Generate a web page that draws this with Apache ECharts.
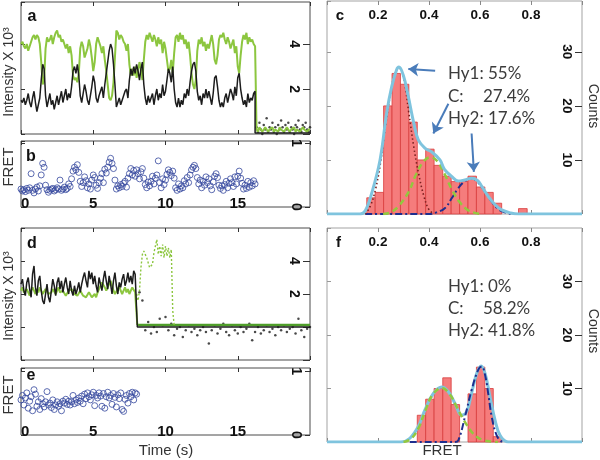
<!DOCTYPE html>
<html><head><meta charset="utf-8">
<script src="https://cdn.jsdelivr.net/npm/echarts@6/dist/echarts.min.js"></script>
<style>html,body{margin:0;padding:0;background:#fff}#chart{width:600px;height:460px}</style>
</head><body><div id="chart"></div>
<script>
// ---------- DATA ----------
const FRAME_DT = 0.1; // s per frame for traces
// panel a (x10^3), t = 0 .. 16.2 s
const GREEN_A = [4.0,4.1,3.9,3.8,4.0,3.7,3.9,4.1,4.3,4.4, 4.2,4.4,4.3,4.0,3.2,2.2,2.4,3.8,4.3,4.1,
 4.2,4.4,4.0,4.3,4.5,4.6,4.3,4.4,4.1,4.2, 4.0,3.8,4.0,3.6,3.9,3.5,2.6,2.4,2.5,2.3,
 2.7,3.8,4.1,3.9,3.4,3.6,3.8,4.2,3.9,3.4, 2.8,3.2,4.0,4.3,4.1,3.9,3.6,3.9,3.3,2.8,
 2.2,1.6,1.5,1.7,2.3,3.4,4.6,4.5,4.2,4.4, 4.3,4.1,4.0,3.7,4.0,3.1,2.6,2.9,2.6,3.0,
 2.5,2.8,3.2,2.9,2.4,3.3,4.1,4.4,4.2,4.5, 4.3,4.1,4.4,4.2,3.9,4.3,4.0,4.2,3.6,4.1,
 3.8,3.3,2.8,2.9,3.3,2.7,3.6,4.3,4.4,4.1, 4.5,4.2,4.4,4.0,4.2,3.8,4.1,3.5,2.7,2.2,
 2.0,2.4,3.7,4.2,4.0,4.3,3.9,4.1,3.7,4.0, 3.8,4.1,4.4,4.0,3.3,3.1,3.5,4.2,4.4,4.3,
 4.5,4.2,4.0,4.3,4.1,3.8,4.0,4.2,3.6,3.9, 3.0,2.7,3.5,4.1,4.4,4.2,4.5,4.0,4.3,4.1, 4.2,4.0,3.9];
const BLACK_A = [1.5,1.4,1.6,1.3,1.5,1.8,1.4,1.2,1.6,1.9, 1.4,1.0,1.3,1.6,2.4,3.1,2.9,1.7,1.2,1.5,
 1.8,1.3,1.5,1.1,1.4,1.7,1.3,1.6,1.9,1.4, 1.7,2.0,1.5,1.8,1.6,2.1,2.8,3.0,2.7,3.1,
 2.6,1.7,1.4,1.8,2.2,1.9,1.5,1.3,1.7,2.1, 2.6,2.3,1.6,1.4,1.7,1.9,2.1,1.6,2.2,2.7,
 3.2,3.7,4.0,3.8,3.1,2.2,1.2,1.4,1.6,1.3, 1.5,1.7,1.9,2.0,1.6,2.4,2.9,2.6,3.0,2.7,
 3.1,2.8,2.4,2.9,3.2,2.2,1.6,1.3,1.7,1.4, 1.6,1.8,1.3,1.7,2.0,1.5,1.8,1.6,2.2,1.7,
 1.9,2.4,2.9,2.7,2.3,3.0,2.0,1.4,1.2,1.6, 1.2,1.5,1.3,1.8,1.6,2.0,1.7,2.3,2.8,3.1,
 3.2,2.8,1.9,1.5,1.7,1.3,1.8,1.6,2.0,1.6, 1.9,1.6,1.3,1.8,2.5,2.6,2.1,1.5,1.2,1.4,
 1.2,1.6,1.8,1.4,1.7,2.0,1.8,1.5,2.1,1.7, 2.5,2.7,2.0,1.6,1.3,1.5,1.2,1.8,1.4,1.6, 1.5,1.8,1.9];
const A_POST_T0 = 16.3; // after photobleaching, t = 16.3 .. 20.0 s
const GREEN_A_POST = [0.2,0.1,0.3,0.2,0.1,0.2,0.3,0.2,0.1,0.2, 0.2,0.3,0.1,0.2,0.2,0.1,0.3,0.2,0.2,0.1,
 0.2,0.3,0.2,0.1,0.2,0.2,0.3,0.1,0.2,0.2, 0.1,0.2,0.3,0.2,0.2,0.1,0.2,0.2];
const BLACK_A_DOTS = [0.3,0.1,0.5,0.2,0.0,0.4,0.2,0.7,0.1,0.3, 0.2,0.5,0.1,0.3,0.0,0.4,0.2,0.6,0.3,0.1,
 0.4,0.2,0.5,0.1,0.3,0.2,0.0,0.4,0.3,0.6, 0.2,0.1,0.4,0.3,0.5,0.2,0.1,0.3];
const BLACK_A_BASE_T = [16.2, 20.0];
const BLACK_A_BASE = [0.05, 0.05];
// panel b FRET, t = 0 .. 16.2 s
const FRET_B = [0.28,0.25,0.27,0.24,0.29,0.26,0.30,0.52,0.26,0.22, 0.28,0.31,0.25,0.33,0.50,0.68,0.62,0.34,0.27,0.23,
 0.26,0.28,0.29,0.25,0.27,0.30,0.28,0.42,0.26,0.28, 0.31,0.27,0.29,0.36,0.32,0.44,0.56,0.62,0.58,0.66,
 0.54,0.40,0.32,0.38,0.47,0.41,0.30,0.36,0.28,0.42, 0.50,0.46,0.34,0.29,0.38,0.45,0.52,0.38,0.59,0.53,
 0.62,0.70,0.76,0.68,0.60,0.42,0.28,0.33,0.30,0.35, 0.32,0.37,0.40,0.31,0.45,0.52,0.60,0.50,0.57,0.48,
 0.58,0.52,0.44,0.55,0.60,0.45,0.35,0.30,0.39,0.33, 0.40,0.48,0.36,0.45,0.50,0.72,0.38,0.30,0.44,0.35,
 0.42,0.51,0.58,0.54,0.49,0.56,0.45,0.30,0.26,0.36, 0.28,0.33,0.30,0.41,0.36,0.46,0.38,0.50,0.58,0.62,
 0.65,0.60,0.46,0.36,0.42,0.30,0.40,0.34,0.47,0.38, 0.44,0.33,0.27,0.39,0.48,0.52,0.46,0.34,0.29,0.33,
 0.26,0.35,0.40,0.30,0.37,0.44,0.38,0.32,0.47,0.36, 0.48,0.56,0.45,0.37,0.28,0.34,0.29,0.40,0.31,0.38, 0.33,0.41,0.36];
// panel d (x10^3), t = 0 .. 8.0 s
const BLACK_D = [2.6,2.9,2.2,1.9,2.7,3.0,2.3,1.8,3.2,3.7, 2.4,1.9,2.8,3.1,2.2,1.6,1.4,2.0,2.6,1.8,
 1.5,2.2,2.9,2.5,1.9,2.7,3.0,2.3,2.8,2.1, 2.6,3.0,2.4,2.0,2.8,2.2,1.9,2.5,2.0,2.3,
 2.7,2.1,2.6,3.0,3.3,2.8,2.4,3.4,2.9,3.3, 2.6,3.1,2.5,2.1,3.0,2.6,2.2,2.9,3.4,2.8,
 2.3,3.1,2.6,2.0,2.8,3.3,2.5,2.0,2.7,2.4, 2.9,3.2,2.5,2.8,3.3,2.7,3.1,2.6,3.4,3.2, 3.3];
const GREEN_D = [2.2,2.4,2.1,2.0,2.3,2.1,1.9,2.2,2.4,2.2, 2.0,2.3,2.1,2.4,2.2,2.0,2.1,2.3,2.2,2.0,
 1.9,2.1,2.3,2.2,2.0,2.2,2.4,2.1,2.0,2.2, 2.1,1.9,2.0,2.2,2.1,2.3,2.2,2.0,2.1,1.9,
 2.0,2.2,2.1,1.9,2.0,1.8,1.9,2.1,2.0,1.8, 1.9,2.0,1.8,2.1,2.3,2.5,2.7,2.6,2.4,2.2,
 2.3,2.6,2.8,2.5,2.2,2.0,2.1,2.3,2.5,2.2, 2.0,2.2,2.4,2.1,2.3,2.0,2.2,2.4,2.3,2.1, 2.0];
const D_SPIKE_T0 = 8.0; // green dotted burst, t = 8.0 .. 10.6 s
const GREEN_D_SPIKE = [2.0,1.6,2.2,3.6,4.4,4.6,4.5,4.2,3.9,3.6, 3.5,3.8,4.5,4.9,5.3,4.4,4.9,4.3,5.0,4.2,
 4.9,4.3,4.8,4.2,4.7,1.0,0.1];
const D_BASE_T = [8.05, 20.0];
const BLACK_D_BASE = [0.0, 0.0];
const GREEN_D_BASE = [0.12, 0.12];
const D_DOTS_T0 = 8.2, D_DOTS_DT = 0.2; // t = 8.2 .. 20.0 s
const BLACK_D_DOTS = [2.1,1.6,-0.2,0.3,-0.4,0.0,-0.3,0.5,0.1,0.6, -0.2,0.2,-0.5,-0.1,0.0,-0.6,-0.2,0.1,-0.3,-0.1,
 -0.5,-0.2,0.0,-0.3,-1.0,-0.2,0.1,-0.4,-0.1,0.2, -0.3,-0.5,0.1,-0.2,-0.4,0.0,-0.3,-0.1,0.2,-0.8,
 -0.3,0.0,-0.4,-0.2,0.1,-0.3,-0.1,-0.5,0.0,-0.2, 0.1,-0.3,-0.1,0.0,-0.4,0.5,-0.2,-0.6,-0.1,0.0];
// panel e FRET, t = 0 .. 8.0 s
const FRET_E = [0.55,0.62,0.47,0.58,0.66,0.42,0.53,0.60,0.38,0.71, 0.64,0.45,0.52,0.40,0.57,0.49,0.44,0.52,0.68,0.47,
 0.50,0.43,0.55,0.40,0.47,0.52,0.45,0.49,0.38,0.53, 0.50,0.56,0.48,0.53,0.47,0.52,0.62,0.49,0.55,0.51,
 0.58,0.53,0.61,0.49,0.64,0.57,0.66,0.60,0.55,0.63, 0.67,0.46,0.62,0.58,0.66,0.61,0.45,0.65,0.42,0.60,
 0.67,0.58,0.62,0.48,0.65,0.59,0.44,0.63,0.57,0.66, 0.40,0.37,0.56,0.62,0.50,0.65,0.60,0.67,0.55,0.66, 0.64];
// histograms (FRET bins, counts)
const BIN_EDGES = [0.156,0.189,0.222,0.255,0.288,0.321,0.354,0.387,0.420,0.454,0.487,0.520,0.553,0.586,0.619,0.652,0.685,0.718,0.751,0.785];
const COUNTS_C = [3,4,20,26,24,17,10,12,9,7,6,6,7,5,4,2,0,0,1];
const COUNTS_F = [0,0,0,0,0,0,5,8,10,12,7,0,9,14,10,1,0,0,0];
// fitted curves, panel c
const FIT_C_X = [0,0.13,0.15,0.175,0.208,0.234,0.254,0.273,0.282,0.299,0.319,0.339,0.358,0.384,0.41,0.443,0.46,0.49,0.515,0.54,0.567,0.59,0.607,0.633,0.659,0.685,0.72,0.75,1];
const FIT_C_Y = [0,0,0.6,3.8,10,18.7,23.6,26.7,27.2,25.7,21.7,17.1,13.7,12.2,11.5,10,8.3,6.9,6.1,6.3,6.6,6.2,5.1,3.2,1.7,0.75,0.2,0,0];
const HY1_C_X = [0.15,0.17,0.19,0.21,0.23,0.25,0.265,0.282,0.30,0.32,0.34,0.36,0.38,0.40,0.42];
const HY1_C_Y = [0,1.5,4.5,9.5,16.5,22.5,25.8,27,25.3,19,12.5,7.3,3.3,0.8,0];
const C_C_X = [0.22,0.25,0.28,0.32,0.35,0.38,0.405,0.43,0.46,0.49,0.52,0.55,0.58,0.61];
const C_C_Y = [0,0.3,1.4,4.1,7.4,9.8,10.5,9.9,7.5,4.5,2.2,0.8,0.2,0];
const HY2_C_X = [0.15,0.40,0.43,0.463,0.489,0.515,0.541,0.567,0.593,0.62,0.646,0.672,0.70,0.73];
const HY2_C_Y = [0,0,0.3,1.1,2.9,4.8,6.1,6.6,5.8,4.1,2.3,0.9,0.25,0];
// fitted curves, panel f
const FIT_F_X = [0,0.29,0.325,0.358,0.384,0.417,0.45,0.476,0.502,0.528,0.548,0.567,0.587,0.604,0.62,0.639,0.659,0.678,0.705,0.72,1];
const FIT_F_Y = [0,0,0.7,2.9,6,9.1,10.3,9.4,7.2,5,5.7,9.1,12.8,14.2,12.8,8.5,4.1,1.3,0.05,0,0];
const C_F_X = [0.30,0.33,0.36,0.385,0.415,0.45,0.48,0.508,0.53,0.548,0.567,0.587,0.61,0.64,0.67];
const C_F_Y = [0,0.6,2.7,5.8,8.9,10.1,9.0,6.6,4.6,3.2,1.9,1.0,0.4,0.1,0];
const HY2_F_X = [0.325,0.50,0.515,0.541,0.567,0.593,0.607,0.62,0.633,0.646,0.665,0.685,0.70];
const HY2_F_Y = [0,0,0.3,4.7,9.7,13.5,14.1,12.5,8.8,4.7,1.3,0.1,0];
// arrows in panel c: [fromX, fromY, toX, toY]
const ARROWS_C = [[0.424,26.5,0.319,26.8],[0.476,20.4,0.417,14.9],[0.567,14.9,0.576,7.8]];
const X_TICKS_TIME = [0,5,10,15];
// ---------- helpers ----------
const trace = (t0, dt, vals) => vals.map((v,i) => [Math.round((t0+i*dt)*100)/100, v]);
const pairs = (xs, ys) => xs.map((x,i) => [x, ys[i]]);
const bins = counts => counts.map((c,i) => [BIN_EDGES[i], BIN_EDGES[i+1], c]).filter(d => d[2] > 0);
const FONT = '"Liberation Sans", Arial, sans-serif';
const GREEN = '#8cc63f', BLACK = '#1c1c1c', CYAN = '#7fc4de', NAVY = '#1e2e8e';

function tAxis(gi, pos, labels){
  return {type:'value', gridIndex:gi, position:pos, min:0, max:20, interval:5,
    axisLine:{show:false, onZero:false}, splitLine:{show:false},
    axisTick:{show:!labels, inside:true, length:4, lineStyle:{color:'#333'}},
    axisLabel: labels ? {show:true, inside:true, margin:-4, fontSize:15, fontWeight:'bold', color:'#111', fontFamily:FONT,
      showMaxLabel:false, alignMinLabel:'left', formatter:v => X_TICKS_TIME.indexOf(v) >= 0 ? String(v) : ''} : {show:false}};
}
function fAxis(gi, pos, labels){
  return {type:'value', gridIndex:gi, position:pos, min:0, max:1, interval:0.2,
    axisLine:{show:false, onZero:false}, splitLine:{show:false},
    axisTick:{show:true, inside:true, length:4, lineStyle:{color:'#888'}},
    axisLabel: labels ? {show:true, inside:true, margin:7, fontSize:13.5, fontWeight:'bold', color:'#111', fontFamily:FONT,
      formatter:v => (v > 0.01 && v < 0.99) ? v.toFixed(1) : ''} : {show:false}};
}
function leftY(gi, min, max, interval, color){
  return {type:'value', gridIndex:gi, position:'left', min, max, interval,
    axisLine:{show:false, onZero:false}, splitLine:{show:false},
    axisTick:{show:true, inside:true, length:4, lineStyle:{color}}, axisLabel:{show:false}};
}
function rightY(gi, min, max, interval, shown, fs, margin, tickLen){
  return {type:'value', gridIndex:gi, position:'right', min, max, interval,
    axisLine:{show:false, onZero:false}, splitLine:{show:false},
    axisTick:{show:true, inside:true, length:tickLen, lineStyle:{color:'#333'}},
    axisLabel:{show:true, inside:true, rotate:-90, margin, fontSize:fs, fontWeight:'bold', color:'#111', fontFamily:FONT,
      showMinLabel:true, showMaxLabel:false, formatter:v => shown.indexOf(v) >= 0 ? String(v) : ''}};
}
function histRender(params, api){
  const p0 = api.coord([api.value(0), 0]);
  const p1 = api.coord([api.value(1), api.value(2)]);
  return {type:'rect', shape:{x:p0[0], y:p1[1], width:p1[0]-p0[0], height:p0[1]-p1[1]},
    style:{fill:'#f57c7c', stroke:'#d83c3c', lineWidth:0.8}};
}
const lineS = (name, xi, yi, data, color, width, type, extra) => Object.assign({
  name, type:'line', xAxisIndex:xi, yAxisIndex:yi, data, showSymbol:false, symbol:'none',
  lineStyle:{color, width, type}, silent:true}, extra || {});
const dotS = (name, xi, yi, data, color) => ({name, type:'scatter', xAxisIndex:xi, yAxisIndex:yi, data,
  symbolSize:2.5, itemStyle:{color}, silent:true});
const circS = (name, xi, yi, data) => ({name, type:'scatter', xAxisIndex:xi, yAxisIndex:yi, data,
  symbol:'circle', symbolSize:6, itemStyle:{color:'rgba(0,0,0,0)', borderColor:'#34479d', borderWidth:1}, silent:true});

const grids = [
  {left:21, top:2, width:289, height:132, show:true, borderColor:'#4a4a4a', borderWidth:1},
  {left:21, top:141, width:289, height:66, show:true, borderColor:'#4a4a4a', borderWidth:1},
  {left:21, top:228, width:289, height:132, show:true, borderColor:'#4a4a4a', borderWidth:1},
  {left:21, top:368, width:289, height:67, show:true, borderColor:'#4a4a4a', borderWidth:1},
  {left:327, top:1, width:255, height:213, show:true, borderColor:'#a3a3a3', borderWidth:1},
  {left:327, top:228, width:255, height:214, show:true, borderColor:'#a3a3a3', borderWidth:1}
];
const xAxes = [
  tAxis(0,'bottom',false), tAxis(0,'top',false),
  tAxis(1,'bottom',true), tAxis(1,'top',false),
  tAxis(2,'bottom',false), tAxis(2,'top',false),
  tAxis(3,'bottom',true), tAxis(3,'top',false),
  fAxis(4,'top',true), fAxis(4,'bottom',false),
  fAxis(5,'top',true), fAxis(5,'bottom',false)
];
const yAxes = [
  leftY(0,0,5.87,2,'#333'), rightY(0,0,5.87,2,[2,4],14,9,7),
  leftY(1,0,1.03,1,'#333'), rightY(1,0,1.03,1,[0,1],14,7,5),
  leftY(2,-2,6,2,'#333'), rightY(2,-2,6,2,[2,4],14,9,7),
  leftY(3,0,1.05,1,'#333'), rightY(3,0,1.05,1,[0,1],14,7,5),
  leftY(4,0,39.4,10,'#999'), rightY(4,0,39.4,10,[10,20,30],13.5,8,7),
  leftY(5,0,40,10,'#999'), rightY(5,0,40,10,[10,20,30],13.5,8,7)
];
const series = [
  // a
  lineS('greenA',0,0, trace(0,FRAME_DT,GREEN_A).concat(trace(A_POST_T0,FRAME_DT,GREEN_A_POST)), GREEN, 2, 'solid'),
  lineS('blackA',0,0, trace(0,FRAME_DT,BLACK_A).concat(pairs(BLACK_A_BASE_T,BLACK_A_BASE)), BLACK, 1.5, 'solid'),
  dotS('blackAdots',0,0, trace(A_POST_T0,FRAME_DT,BLACK_A_DOTS), BLACK),
  // b
  circS('fretB',2,2, trace(0,FRAME_DT,FRET_B)),
  // d
  lineS('greenDbase',4,4, pairs(D_BASE_T,GREEN_D_BASE), '#4f9e2a', 2.5, 'solid'),
  lineS('greenD',4,4, trace(0,FRAME_DT,GREEN_D).concat(pairs(D_BASE_T.slice(0,1),GREEN_D_BASE.slice(0,1))), GREEN, 2, 'solid'),
  lineS('greenDspike',4,4, trace(D_SPIKE_T0,FRAME_DT,GREEN_D_SPIKE), GREEN, 1.4, [2,2]),
  lineS('blackD',4,4, trace(0,FRAME_DT,BLACK_D).concat(pairs(D_BASE_T,BLACK_D_BASE)), BLACK, 1.5, 'solid'),
  dotS('blackDdots',4,4, trace(D_DOTS_T0,D_DOTS_DT,BLACK_D_DOTS), BLACK),
  // e
  circS('fretE',6,6, trace(0,FRAME_DT,FRET_E)),
  // c
  {name:'histC', type:'custom', xAxisIndex:8, yAxisIndex:8, renderItem:histRender, data:bins(COUNTS_C), encode:{x:[0,1], y:2}, silent:true},
  lineS('hy2C',8,8, pairs(HY2_C_X,HY2_C_Y), NAVY, 2, [7,3,2,3], {smooth:0.4}),
  lineS('cC',8,8, pairs(C_C_X,C_C_Y), '#93c83e', 2.5, [6,4], {smooth:0.4}),
  lineS('hy1C',8,8, pairs(HY1_C_X,HY1_C_Y), '#7a1f1f', 1.6, [1.5,2.5], {smooth:0.4}),
  lineS('fitC',8,8, pairs(FIT_C_X,FIT_C_Y), CYAN, 3, 'solid', {smooth:0.4, z:5,
    markLine:{silent:true, animation:false, symbol:['none','arrow'], symbolSize:10, label:{show:false},
      lineStyle:{color:'#4a7cba', width:2, type:'solid'},
      data: ARROWS_C.map(a => [{coord:[a[0],a[1]]},{coord:[a[2],a[3]]}])}}),
  // f
  {name:'histF', type:'custom', xAxisIndex:10, yAxisIndex:10, renderItem:histRender, data:bins(COUNTS_F), encode:{x:[0,1], y:2}, silent:true},
  lineS('fitF',10,10, pairs(FIT_F_X,FIT_F_Y), CYAN, 3, 'solid', {smooth:0.4}),
  lineS('cF',10,10, pairs(C_F_X,C_F_Y), '#93c83e', 2.5, [6,4], {smooth:0.4, z:4}),
  lineS('hy2F',10,10, pairs(HY2_F_X,HY2_F_Y), NAVY, 2, [7,3,2,3], {smooth:0.4, z:4})
];
const T = (text, x, y, font, opts) => Object.assign({type:'text', x, y, z:100, silent:true,
  style:{text, font, fill:'#333', align:'center', verticalAlign:'middle'}}, opts || {});
const ANN = '17px Lato, "Open Sans", sans-serif';
const annL = (text, x, y) => ({type:'text', x, y, z:100, silent:true, style:{text, font:ANN, fill:'#3c3c3c', align:'left', verticalAlign:'middle'}});
const letter = (text, x, y, size) => ({type:'text', x, y, z:100, silent:true,
  style:{text, font:'bold '+size+'px '+FONT, fill:'#111', align:'center', verticalAlign:'middle'}});
const graphic = [
  letter('a',32,17,16), letter('b',31,157,16), letter('c',340,16,15),
  letter('d',32,244,16), letter('e',31,376,16), letter('f',338.5,243,15),
  T('Intensity X 10\u00B3',9,72,'14px '+FONT,{rotation:Math.PI/2}),
  T('Intensity X 10\u00B3',9,296,'14px '+FONT,{rotation:Math.PI/2}),
  T('FRET',9,167,'15px '+FONT,{rotation:Math.PI/2}),
  T('FRET',9,395,'15px '+FONT,{rotation:Math.PI/2}),
  T('Time (s)',166,451,'15px '+FONT),
  T('FRET',442,451,'15px '+FONT),
  T('Counts',593,106,'14px '+FONT,{rotation:-Math.PI/2}),
  T('Counts',593,331,'14px '+FONT,{rotation:-Math.PI/2}),
  annL('Hy1: 55%',448,74), annL('C:',448,96.5), annL('27.4%',483,96.5), annL('Hy2: 17.6%',448,118.5),
  annL('Hy1: 0%',448,287), annL('C:',448,309), annL('58.2%',483,309), annL('Hy2: 41.8%',448,331)
];
const chart = echarts.init(document.getElementById('chart'), null, {renderer:'canvas'});
chart.setOption({animation:false, grid:grids, xAxis:xAxes, yAxis:yAxes, series, graphic});
</script></body></html>
